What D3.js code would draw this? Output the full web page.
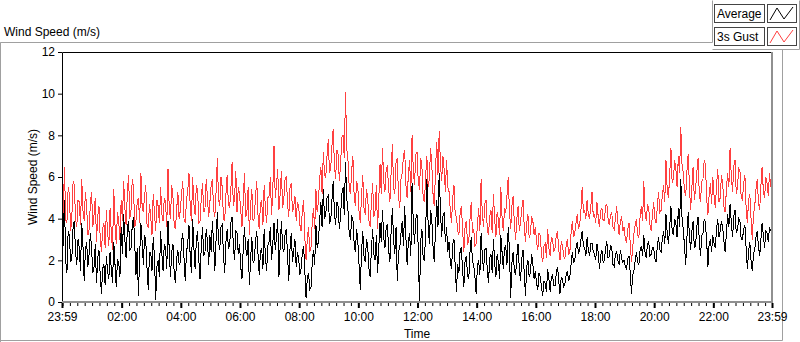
<!DOCTYPE html>
<html>
<head>
<meta charset="utf-8">
<script src="https://cdn.jsdelivr.net/npm/d3@7"></script>
<style>
  body { margin: 0; background: #fff; }
  svg text { font-family: "Liberation Sans", Arial, sans-serif; font-size: 12px; fill: #000; }
</style>
</head>
<body>
<svg id="chart" width="800" height="342"></svg>
<script>
// one sample every 2.5 minutes, 23:59 -> 23:59 (24 per hour + final point)
var gust = [
  5.0,4.2, 6.5,3.9, 3.8,5.5, 5.2,3.4, 4.1,5.8, 5.6,4.0, 3.6,4.9, 4.8,3.7, 5.9,4.4, 3.9,5.3, 4.6,3.2, 3.5,4.7,
  5.3,3.6, 4.2,5.0, 2.9,4.1, 4.6,3.1, 2.4,3.5, 3.8,2.6, 4.4,3.3, 2.7,4.5, 3.3,2.5, 5.4,3.7, 2.8,4.3, 3.9,3.0,
  4.9,3.9, 5.8,4.5, 3.7,5.2, 6.1,4.0, 4.4,5.9, 5.5,3.6, 3.9,4.8, 5.0,3.8, 6.2,4.6, 4.3,5.1, 5.6,3.7, 3.6,4.7,
  4.1,3.2, 5.2,4.3, 3.4,4.9, 4.6,3.8, 5.5,4.2, 3.9,5.0, 4.8,3.6, 6.4,4.5, 4.0,5.6, 5.1,3.7, 3.5,4.4, 5.3,4.0,
  4.4,5.2, 5.8,4.0, 3.8,4.9, 5.3,6.2, 4.6,3.9, 6.0,4.7, 4.2,5.6, 5.4,3.8, 3.9,5.0, 5.7,4.3, 4.5,5.9, 5.0,4.1,
  4.8,5.6, 5.9,4.4, 4.1,5.3, 6.9,4.9, 4.6,6.0, 5.5,4.0, 3.9,5.2, 6.1,4.7, 4.5,5.4, 6.7,4.6, 5.0,6.3, 4.3,5.5,
  5.2,4.4, 3.6,4.8, 6.2,4.1, 4.3,5.5, 3.2,4.6, 5.4,3.9, 4.0,5.1, 5.8,4.2, 3.5,4.7, 4.9,3.7, 5.6,4.5, 3.8,5.0,
  5.1,6.0, 4.2,5.3, 7.5,5.0, 5.6,6.4, 4.4,5.2, 6.3,4.5, 5.0,5.9, 6.0,4.7, 4.1,5.5, 5.7,4.3, 4.6,5.1, 3.9,4.8,
  4.6,3.7, 3.4,4.4, 4.9,3.1, 2.0,3.0, 3.6,2.4, 2.6,3.8, 4.5,3.5, 5.4,4.3, 4.8,5.9, 6.5,5.2, 7.2,6.1, 6.0,7.0,
  7.8,6.2, 6.4,7.5, 8.3,6.6, 5.9,7.3, 7.1,5.8, 6.6,7.9, 8.0,6.9, 10.1,7.4, 6.8,5.5, 5.2,6.3, 7.0,5.1, 4.6,5.8,
  5.5,4.3, 3.8,5.1, 6.1,4.5, 4.2,5.4, 5.0,3.9, 3.6,4.8, 5.7,4.1, 4.4,5.6, 3.5,4.9, 6.6,5.2, 7.4,5.8, 5.3,6.4,
  6.5,5.4, 4.8,6.2, 7.6,5.5, 5.2,6.7, 6.9,5.1, 4.5,5.9, 6.2,7.0, 7.3,5.6, 5.0,6.1, 6.8,5.3, 8.0,6.3, 5.6,7.1,
  7.2,5.8, 5.4,6.9, 6.5,5.0, 4.8,6.0, 7.0,5.5, 5.9,7.4, 6.6,5.2, 4.6,6.3, 7.7,6.1, 8.2,6.7, 5.8,7.0, 6.4,5.3,
  6.8,5.5, 5.3,4.4, 3.8,5.0, 5.6,4.2, 4.1,3.4, 3.2,4.3, 4.6,3.5, 2.4,3.6, 3.9,2.8, 2.9,4.0, 4.8,3.3, 3.5,2.7,
  2.8,3.7, 4.5,3.4, 5.9,4.2, 3.6,4.7, 4.9,3.5, 3.2,4.1, 4.4,3.3, 5.2,4.0, 3.1,4.3, 4.0,3.2, 5.5,4.1, 3.4,4.5,
  4.3,5.1, 6.0,4.4, 3.5,4.6, 5.1,3.7, 3.0,4.0, 4.6,3.4, 3.8,4.5, 4.9,3.6, 2.9,3.8, 4.2,3.1, 3.3,4.1, 3.9,3.2,
  3.6,2.9, 2.5,3.3, 3.2,2.3, 1.9,2.7, 2.8,2.1, 3.5,2.6, 2.2,3.1, 3.0,2.4, 2.6,3.2, 3.4,2.5, 2.0,2.9, 2.7,2.2,
  2.1,2.7, 3.0,2.3, 2.4,3.3, 3.9,3.1, 3.3,3.8, 4.2,3.5, 3.7,4.4, 5.5,4.3, 4.4,4.0, 4.9,4.2, 4.0,4.6, 5.3,4.1,
  4.2,3.8, 4.8,4.1, 3.6,4.4, 4.5,3.9, 3.9,4.6, 4.7,4.0, 3.7,4.2, 4.3,3.6, 3.5,4.0, 4.6,3.8, 3.2,3.9, 4.1,3.4,
  3.6,3.0, 2.9,3.5, 3.8,2.8, 1.9,2.6, 3.3,3.7, 4.0,3.2, 3.1,4.1, 4.6,3.9, 5.8,4.3, 3.9,4.7, 4.5,3.7, 3.4,4.2,
  4.8,4.0, 3.8,4.6, 5.3,4.3, 4.4,5.1, 5.6,4.8, 6.8,5.4, 5.0,6.1, 7.4,5.7, 5.9,6.8, 6.4,5.5, 7.0,6.2, 8.4,6.6,
  6.2,5.3, 5.1,6.3, 7.1,5.6, 4.4,5.5, 6.5,4.9, 5.4,6.2, 6.9,5.2, 4.8,5.8, 5.9,6.8, 6.6,5.0, 4.2,5.1, 5.7,4.7,
  6.0,5.1, 4.5,5.6, 6.4,4.8, 5.0,6.1, 5.7,4.6, 4.3,5.4, 6.2,5.5, 7.4,6.0, 5.3,6.5, 6.8,5.2, 5.5,6.4, 6.3,5.0,
  4.9,5.7, 6.1,4.5, 3.8,4.9, 5.2,4.0, 3.0,4.2, 4.6,5.4, 5.9,4.8, 4.4,5.6, 6.5,5.3, 5.0,6.0, 5.7,5.1, 6.2,5.5,
  5.8
];

var average = [
  0.8,3.1, 4.9,2.0, 1.4,3.4, 3.2,1.9, 2.1,3.6, 3.9,2.4, 1.8,3.0, 2.6,1.5, 3.8,2.7, 1.0,2.5, 2.9,1.7, 2.3,3.3,
  2.6,1.4, 1.7,2.8, 0.9,2.1, 2.5,1.3, 0.4,1.6, 1.8,0.8, 2.2,1.5, 1.1,2.4, 1.6,0.9, 2.9,1.8, 0.7,2.0, 1.9,1.2,
  3.6,2.3, 4.2,3.0, 2.1,3.5, 3.9,2.5, 2.6,3.7, 4.1,2.8, 1.3,2.6, 0.3,2.2, 3.8,2.9, 1.8,3.2, 2.9,1.6, 0.6,2.4,
  2.4,1.5, 3.1,2.2, 0.1,1.7, 2.0,1.2, 3.4,2.3, 1.5,2.8, 2.6,1.6, 3.9,2.5, 1.2,2.4, 2.8,1.4, 0.9,2.1, 2.5,1.8,
  1.9,2.9, 3.3,2.1, 1.0,2.4, 2.8,3.7, 2.2,1.4, 4.0,2.6, 1.6,3.0, 3.4,2.0, 1.1,2.7, 3.6,2.2, 2.4,3.5, 2.9,1.8,
  3.2,2.4, 3.9,2.8, 1.5,3.0, 4.3,2.9, 2.5,3.6, 3.7,2.2, 1.4,2.9, 3.5,2.6, 2.7,3.8, 4.1,2.7, 2.0,3.4, 3.3,2.3,
  2.8,1.7, 1.1,2.5, 3.6,2.6, 2.2,3.0, 0.8,2.0, 3.1,1.9, 2.0,2.9, 3.4,2.3, 1.3,2.4, 2.6,1.6, 3.5,2.2, 1.5,2.7,
  2.9,3.6, 2.0,2.8, 3.8,2.5, 3.1,4.0, 1.2,2.7, 3.9,2.6, 2.4,3.3, 3.5,2.2, 1.0,2.6, 3.3,1.9, 2.5,3.0, 1.7,2.4,
  2.1,1.3, 1.6,2.4, 2.7,1.5, 0.2,1.1, 1.4,0.6, 0.7,1.9, 2.5,1.8, 3.7,2.6, 2.9,3.9, 4.8,3.6, 5.4,4.0, 4.2,5.0,
  5.1,3.8, 3.9,4.9, 5.8,4.3, 3.7,4.8, 4.6,3.5, 4.1,5.2, 5.5,4.2, 6.7,5.0, 4.4,3.3, 3.0,4.1, 4.0,2.8, 2.4,3.5,
  2.9,1.8, 0.6,2.4, 3.4,2.2, 1.9,3.0, 2.7,1.6, 1.2,2.5, 3.5,2.3, 2.0,3.2, 1.4,2.6, 3.8,2.9, 4.4,3.1, 2.6,3.6,
  3.7,2.5, 1.9,3.4, 4.5,3.0, 2.3,3.6, 1.0,2.4, 2.6,3.3, 3.9,2.7, 4.6,3.1, 1.8,2.9, 3.3,2.2, 5.7,3.8, 2.8,4.0,
  4.2,2.6, 0.05,2.9, 3.5,2.1, 2.0,3.3, 5.9,3.8, 2.8,4.4, 4.0,2.7, 1.9,3.5, 4.9,3.6, 6.2,4.5, 3.1,4.1, 4.3,2.9,
  3.6,2.4, 2.9,1.9, 1.6,2.8, 3.0,1.7, 0.5,1.8, 1.4,2.5, 2.6,1.5, 0.7,2.0, 2.2,1.3, 1.1,2.4, 3.1,1.9, 1.8,1.2,
  0.4,1.7, 2.0,1.3, 3.3,2.2, 1.5,2.5, 2.6,1.6, 0.9,2.1, 2.3,1.4, 3.0,1.9, 1.2,2.3, 1.9,1.1, 3.2,2.4, 1.6,2.6,
  2.7,1.8, 3.6,2.5, 0.2,1.9, 2.4,1.5, 1.3,2.2, 2.8,1.6, 1.0,2.1, 2.5,1.4, 0.3,1.7, 2.0,1.2, 1.4,2.3, 1.8,1.1,
  1.5,0.9, 0.6,1.4, 1.2,0.7, 0.3,1.0, 0.9,0.5, 1.6,1.1, 0.5,1.2, 1.3,0.8, 0.8,1.4, 1.7,1.0, 0.4,1.2, 1.1,0.7,
  0.9,1.3, 1.5,1.0, 1.2,1.8, 2.4,1.9, 2.0,2.6, 2.9,2.3, 2.5,3.0, 3.4,2.7, 2.6,2.2, 3.1,2.5, 2.2,2.8, 2.8,2.4,
  2.3,2.0, 2.8,2.4, 1.6,2.2, 2.5,1.9, 2.0,2.6, 2.9,2.1, 2.2,2.7, 2.6,1.8, 1.7,2.3, 2.4,2.0, 1.8,2.5, 2.1,1.9,
  2.0,1.7, 1.6,2.1, 2.2,1.4, 0.4,1.3, 1.5,2.0, 2.4,1.9, 1.8,2.5, 2.7,2.2, 3.2,2.4, 2.1,2.8, 2.9,2.2, 2.3,2.6,
  2.6,2.1, 1.9,2.7, 3.1,2.5, 2.4,3.0, 3.4,2.8, 4.2,3.3, 2.8,3.6, 4.6,3.4, 3.2,4.0, 3.8,3.1, 4.5,3.6, 5.9,4.1,
  3.5,2.7, 1.8,3.1, 4.3,3.2, 2.5,3.4, 3.9,2.6, 2.7,3.6, 4.1,3.0, 2.2,3.2, 3.3,4.0, 3.8,2.9, 1.7,2.8, 3.0,2.4,
  3.2,2.8, 2.6,3.5, 4.0,3.1, 3.4,3.9, 3.6,2.9, 2.4,3.3, 4.2,3.6, 4.7,3.8, 3.1,4.1, 4.4,3.3, 3.5,4.0, 3.9,3.0,
  3.0,3.5, 3.7,2.6, 1.6,2.4, 2.9,2.0, 1.5,2.3, 2.5,3.1, 3.4,2.7, 2.2,3.0, 3.8,3.2, 2.6,3.4, 3.3,2.9, 3.6,3.4,
  3.8
];

var yTicks = [0, 2, 4, 6, 8, 10, 12];
var xTickLabels = ["23:59", "02:00", "04:00", "06:00", "08:00", "10:00", "12:00",
                   "14:00", "16:00", "18:00", "20:00", "22:00", "23:59"];

var svg = d3.select("#chart");

var start = new Date(2020, 0, 1, 23, 59);
var end = new Date(2020, 0, 2, 23, 59);
var stepMs = 2.5 * 60 * 1000;

var x = d3.scaleTime().domain([start, end]).range([62, 772]);
var y = d3.scaleLinear().domain([0, 12]).range([302, 52]);

// frame
svg.append("path")
    .attr("d", "M0.5,342 V42.5 H712.5 V0.5 M712.5,49.5 H799.5 V0.5")
    .attr("fill", "none").attr("stroke", "#a0a0a0");
svg.append("path")
    .attr("d", "M0.5,42.5 V340.5 H782.5 V49.5")
    .attr("fill", "none").attr("stroke", "#a0a0a0");

svg.append("text").attr("x", 4).attr("y", 36).text("Wind Speed (m/s)");

// legend
var legendItems = [{name: "Average", color: "#000"}, {name: "3s Gust", color: "#ff4040"}];
legendItems.forEach(function(d, i) {
    var ly = 4 + i * 23;
    svg.append("rect").attr("x", 714.5).attr("y", ly + 0.5).attr("width", 50).attr("height", 18)
        .attr("fill", "#fff").attr("stroke", "#444");
    svg.append("text").attr("x", 717).attr("y", ly + 14).text(d.name);
    svg.append("rect").attr("x", 767.5).attr("y", ly + 0.5).attr("width", 29).attr("height", 18)
        .attr("fill", "#fff").attr("stroke", "#444");
    svg.append("path")
        .attr("d", "M770," + (ly + 16) + " L777," + (ly + 4) + " L784," + (ly + 15) + " L793," + (ly + 3))
        .attr("fill", "none").attr("stroke", d.color);
});

// plot background
svg.append("rect").attr("x", 62).attr("y", 52).attr("width", 710).attr("height", 250).attr("fill", "#fff");

var line = d3.line()
    .x(function(d, i) { return x(new Date(start.getTime() + i * stepMs)); })
    .y(function(d) { return y(d); });

// LabVIEW draws its traces aliased, so keep edges crisp
var plot = svg.append("g");
plot.append("path").datum(gust)
    .attr("d", line).attr("fill", "none").attr("stroke", "#ff4040").attr("stroke-width", 1)
    .attr("shape-rendering", "crispEdges");
plot.append("path").datum(average)
    .attr("d", line).attr("fill", "none").attr("stroke", "#000").attr("stroke-width", 1)
    .attr("shape-rendering", "crispEdges");

// plot border: black top/left, grey bottom/right
svg.append("path").attr("d", "M62.5,302 V52.5 H772").attr("fill", "none").attr("stroke", "#000");
svg.append("path").attr("d", "M62,302 H772 V52").attr("fill", "none").attr("stroke", "#909090").attr("stroke-width", 2);

// y axis
var yAxis = svg.append("g").attr("transform", "translate(62,0)")
    .call(d3.axisLeft(y).tickValues(yTicks).tickSize(4).tickPadding(3));
yAxis.select(".domain").remove();
yAxis.selectAll("text").style("font-size", "12px").style("font-family", "Liberation Sans, Arial, sans-serif");

// x axis
var majorDates = xTickLabels.map(function(s, i) {
    if (i === 0) return start;
    if (i === xTickLabels.length - 1) return end;
    return new Date(2020, 0, 2, i * 2, 0);
});
var minorDates = d3.timeMinute.every(15).range(new Date(2020, 0, 2, 0, 0), end);

var xMinor = svg.append("g").attr("transform", "translate(0,303)")
    .call(d3.axisBottom(x).tickValues(minorDates).tickSize(3).tickFormat(""));
xMinor.select(".domain").remove();

var xAxis = svg.append("g").attr("transform", "translate(0,303)")
    .call(d3.axisBottom(x).tickValues(majorDates).tickSize(5).tickPadding(4)
        .tickFormat(function(d, i) { return xTickLabels[i]; }));
xAxis.select(".domain").remove();
xAxis.selectAll("line").attr("stroke-width", 2);
xAxis.selectAll("text").style("font-size", "12px").style("font-family", "Liberation Sans, Arial, sans-serif");

svg.append("text").attr("x", 417).attr("y", 338).attr("text-anchor", "middle").text("Time");
svg.append("text")
    .attr("transform", "translate(37,177) rotate(-90)")
    .attr("text-anchor", "middle").text("Wind Speed (m/s)");
</script>
</body>
</html>
